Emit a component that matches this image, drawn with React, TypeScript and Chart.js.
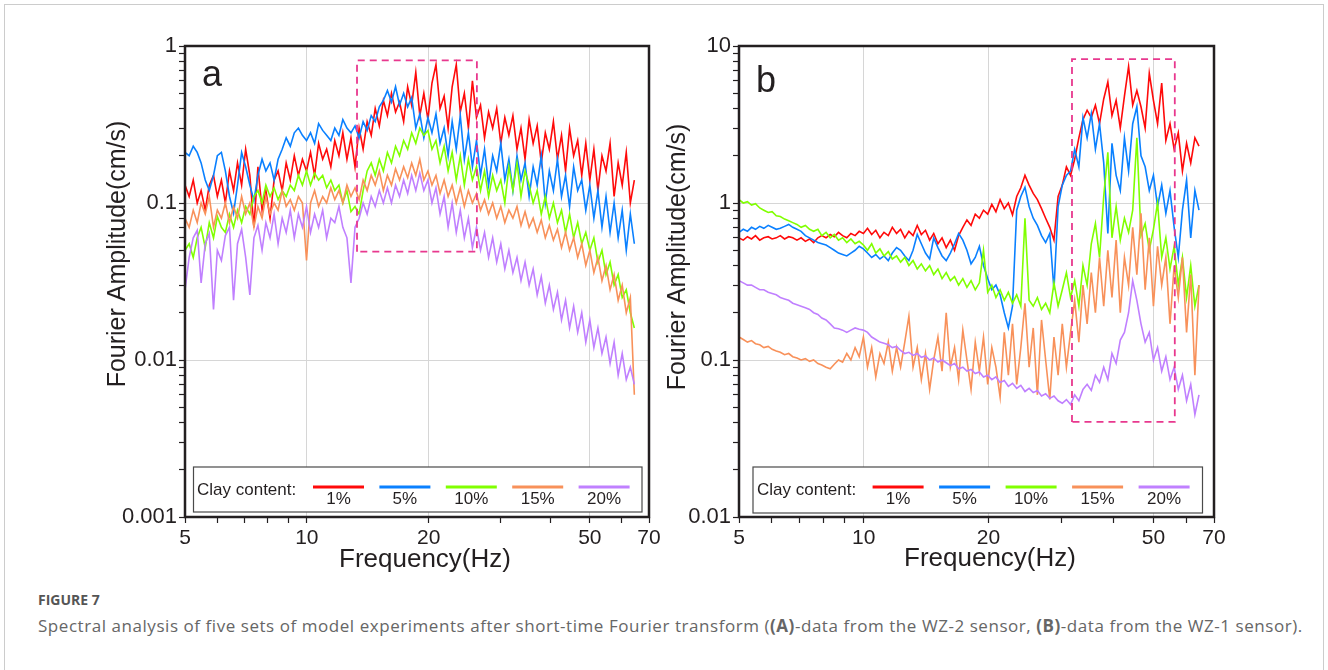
import React, { useEffect, useRef } from "react";
import { Chart, registerables } from "chart.js";

Chart.register(...registerables);

// ---------------- data ----------------
const freqHz = [
  5, 5.12, 5.24, 5.36, 5.48, 5.61, 5.74, 5.88, 6.01, 6.15,
  6.29, 6.44, 6.59, 6.74, 6.9, 7.06, 7.23, 7.4, 7.57, 7.75,
  7.92, 8.11, 8.3, 8.49, 8.69, 8.89, 9.1, 9.31, 9.53, 9.75,
  9.98, 10.21, 10.45, 10.69, 10.94, 11.19, 11.46, 11.72, 12, 12.27,
  12.56, 12.85, 13.15, 13.46, 13.77, 14.09, 14.42, 14.75, 15.1, 15.45,
  15.81, 16.18, 16.56, 16.94, 17.34, 17.74, 18.15, 18.58, 19.01, 19.45,
  19.91, 20.37, 20.84, 21.33, 21.83, 22.33, 22.85, 23.39, 23.93, 24.49,
  25.06, 25.64, 26.24, 26.85, 27.47, 28.11, 28.77, 29.44, 30.13, 30.83,
  31.55, 32.28, 33.04, 33.8, 34.59, 35.4, 36.22, 37.06, 37.93, 38.81,
  39.71, 40.64, 41.59, 42.56, 43.55, 44.56, 45.6, 46.66, 47.75, 48.86,
  50, 51.16, 52.35, 53.57, 54.82, 56.1, 57.4, 58.74, 60.11, 61.51,
  62.95, 64.4,
];

const clayLabels = ["1%", "5%", "10%", "15%", "20%"];

// Panel (a): WZ-2 sensor
const wz2Clay1 = [
  0.13, 0.11, 0.14, 0.1, 0.12, 0.09, 0.13, 0.15, 0.11, 0.14,
  0.1, 0.16, 0.12, 0.18, 0.13, 0.22, 0.15, 0.07, 0.17, 0.09,
  0.12, 0.08, 0.14, 0.16, 0.12, 0.18, 0.14, 0.2, 0.15, 0.19,
  0.16, 0.21, 0.15, 0.24, 0.19, 0.22, 0.17, 0.25, 0.2, 0.28,
  0.19, 0.26, 0.17, 0.3, 0.22, 0.33, 0.27, 0.4, 0.31, 0.45,
  0.36, 0.5, 0.38, 0.44, 0.33, 0.55, 0.42, 0.68, 0.36, 0.5,
  0.34, 0.58, 0.76, 0.4, 0.48, 0.3, 0.55, 0.76, 0.38, 0.5,
  0.3, 0.6, 0.35, 0.42, 0.26, 0.38, 0.3, 0.4, 0.24, 0.35,
  0.27, 0.36, 0.22, 0.3, 0.19, 0.34, 0.24, 0.31, 0.18, 0.28,
  0.22, 0.33, 0.19, 0.27, 0.16, 0.3, 0.2, 0.25, 0.15, 0.24,
  0.14, 0.22, 0.12, 0.2, 0.16, 0.24, 0.11, 0.18, 0.13, 0.21,
  0.1, 0.14,
];
const wz2Clay5 = [
  0.21, 0.2, 0.23, 0.21, 0.18, 0.14, 0.12, 0.15, 0.2, 0.21,
  0.16, 0.11, 0.086, 0.13, 0.21, 0.17, 0.13, 0.104, 0.15, 0.19,
  0.16, 0.18, 0.14, 0.19, 0.22, 0.26, 0.23, 0.28, 0.3, 0.27,
  0.25, 0.28, 0.24, 0.32, 0.29, 0.27, 0.25, 0.3, 0.27, 0.34,
  0.3, 0.28, 0.31, 0.26, 0.33, 0.29, 0.36, 0.33, 0.41, 0.45,
  0.52, 0.44, 0.55, 0.42, 0.5, 0.41, 0.47, 0.3, 0.37, 0.26,
  0.35, 0.28, 0.37, 0.24, 0.3, 0.2, 0.33, 0.22, 0.36, 0.19,
  0.28, 0.17, 0.25, 0.15, 0.22, 0.13, 0.2, 0.16, 0.24, 0.14,
  0.19, 0.12, 0.2, 0.14, 0.18, 0.11, 0.17, 0.13, 0.2, 0.1,
  0.16, 0.12, 0.19, 0.11, 0.15, 0.095, 0.17, 0.12, 0.14, 0.09,
  0.13, 0.08, 0.12, 0.07, 0.11, 0.065, 0.1, 0.06, 0.09, 0.05,
  0.085, 0.055,
];
const wz2Clay10 = [
  0.05, 0.055, 0.045, 0.06, 0.07, 0.052, 0.075, 0.06, 0.082, 0.07,
  0.065, 0.085, 0.07, 0.09, 0.075, 0.095, 0.085, 0.11, 0.12, 0.1,
  0.13, 0.11, 0.125, 0.105, 0.12, 0.11, 0.13, 0.12, 0.15, 0.13,
  0.16, 0.13, 0.155, 0.14, 0.15, 0.125, 0.14, 0.12, 0.13, 0.1,
  0.12, 0.088, 0.095, 0.085, 0.12, 0.16, 0.18, 0.15, 0.19, 0.16,
  0.21, 0.18, 0.23, 0.2, 0.25, 0.22, 0.28, 0.24, 0.3, 0.27,
  0.29, 0.22, 0.25, 0.18, 0.23, 0.16, 0.21, 0.14, 0.2, 0.13,
  0.19, 0.14, 0.17, 0.12, 0.16, 0.11, 0.15, 0.12, 0.14, 0.1,
  0.17, 0.12, 0.18, 0.11, 0.16, 0.13, 0.1, 0.12, 0.085, 0.11,
  0.08, 0.1, 0.075, 0.09, 0.065, 0.085, 0.06, 0.075, 0.055, 0.065,
  0.05, 0.06, 0.042, 0.05, 0.035, 0.042, 0.03, 0.035, 0.025, 0.028,
  0.02, 0.016,
];
const wz2Clay15 = [
  0.08, 0.07, 0.09, 0.075, 0.1, 0.085, 0.11, 0.07, 0.09, 0.08,
  0.1, 0.075, 0.095, 0.08, 0.11, 0.085, 0.1, 0.07, 0.095, 0.08,
  0.11, 0.085, 0.1, 0.09, 0.12, 0.095, 0.105, 0.09, 0.11, 0.1,
  0.043, 0.1, 0.12, 0.095, 0.11, 0.1, 0.125, 0.105, 0.12, 0.1,
  0.13, 0.11, 0.125, 0.105, 0.14, 0.12, 0.15, 0.13, 0.16, 0.12,
  0.15, 0.13, 0.165, 0.14, 0.17, 0.145, 0.18, 0.15, 0.19, 0.14,
  0.16, 0.13, 0.15, 0.115, 0.14, 0.11, 0.13, 0.1, 0.125, 0.095,
  0.12, 0.1, 0.115, 0.09, 0.105, 0.085, 0.1, 0.08, 0.095, 0.075,
  0.09, 0.08, 0.095, 0.072, 0.088, 0.07, 0.08, 0.065, 0.078, 0.06,
  0.072, 0.058, 0.068, 0.052, 0.065, 0.05, 0.06, 0.045, 0.055, 0.04,
  0.05, 0.036, 0.045, 0.032, 0.04, 0.028, 0.035, 0.024, 0.03, 0.02,
  0.025, 0.006,
];
const wz2Clay20 = [
  0.028, 0.045, 0.06, 0.067, 0.031, 0.055, 0.064, 0.021, 0.05, 0.043,
  0.062, 0.07, 0.024, 0.055, 0.068, 0.045, 0.026, 0.06, 0.072, 0.05,
  0.075, 0.06, 0.085, 0.055, 0.08, 0.065, 0.09, 0.06, 0.085, 0.07,
  0.095, 0.065, 0.085, 0.07, 0.09, 0.06, 0.08, 0.075, 0.095, 0.07,
  0.06, 0.031, 0.07, 0.08, 0.1, 0.085, 0.11, 0.095, 0.12, 0.1,
  0.125, 0.1, 0.13, 0.11, 0.14, 0.115, 0.15, 0.12, 0.155, 0.12,
  0.14, 0.1, 0.125, 0.085, 0.11, 0.07, 0.1, 0.065, 0.09, 0.06,
  0.08, 0.052, 0.07, 0.05, 0.065, 0.045, 0.06, 0.042, 0.055, 0.038,
  0.05, 0.036, 0.045, 0.032, 0.042, 0.03, 0.038, 0.026, 0.034, 0.023,
  0.03, 0.021, 0.027, 0.018, 0.024, 0.016, 0.022, 0.015, 0.02, 0.013,
  0.018, 0.012, 0.016, 0.011, 0.014, 0.0095, 0.013, 0.008, 0.011, 0.0075,
  0.009, 0.007,
];

// Panel (b): WZ-1 sensor
const wz1Clay1 = [
  0.6, 0.58, 0.61, 0.59, 0.62, 0.58, 0.6, 0.61, 0.59, 0.6,
  0.62, 0.59, 0.61, 0.6, 0.58, 0.6, 0.57, 0.59, 0.56, 0.6,
  0.62, 0.6, 0.63, 0.61, 0.65, 0.62, 0.6, 0.64, 0.62, 0.66,
  0.64, 0.69, 0.63, 0.67, 0.6, 0.65, 0.62, 0.7, 0.64, 0.68,
  0.6, 0.66, 0.62, 0.72, 0.63, 0.67, 0.58, 0.64, 0.55, 0.6,
  0.52, 0.58, 0.5, 0.62, 0.7, 0.78, 0.72, 0.85, 0.8, 0.9,
  0.85, 0.98, 0.88, 1.05, 0.92, 1.0, 0.84, 1.1, 1.25, 1.5,
  1.3, 1.15, 1.05, 0.92, 0.8, 0.7, 0.58, 1.1, 1.3, 1.7,
  1.5, 1.9, 2.6, 3.4, 3.9, 3.5, 4.2, 3.2, 4.6, 5.9,
  3.6, 4.5, 3.0, 4.8, 7.4, 4.2, 5.2, 4.1, 3.0, 6.7,
  4.5, 3.2, 5.8, 2.5, 3.2, 2.2, 2.8, 1.6, 2.4, 1.8,
  2.6, 2.3,
];
const wz1Clay5 = [
  0.65, 0.68, 0.66, 0.7, 0.68, 0.71, 0.69, 0.72, 0.7, 0.68,
  0.69, 0.71, 0.73, 0.7, 0.68, 0.66, 0.62, 0.6, 0.58, 0.56,
  0.55, 0.54, 0.52, 0.5, 0.48, 0.47, 0.46, 0.48, 0.5, 0.53,
  0.51, 0.48, 0.45, 0.47, 0.44, 0.46, 0.43, 0.48, 0.52, 0.5,
  0.46, 0.43, 0.5, 0.63, 0.55, 0.48, 0.44, 0.6, 0.52, 0.46,
  0.43, 0.48, 0.55, 0.64, 0.58, 0.5, 0.41, 0.45, 0.53, 0.4,
  0.33, 0.28, 0.3, 0.26, 0.2, 0.16, 0.22, 0.9, 1.1, 1.26,
  0.95, 0.8, 0.72, 0.62, 0.56, 0.64, 0.28, 0.95, 1.3, 1.5,
  1.6, 2.2, 1.7, 3.5, 2.6, 3.7, 2.2, 3.2, 1.8, 0.64,
  2.4, 1.5, 1.2, 2.6, 1.6, 3.2, 4.1, 2.0, 1.7, 1.2,
  1.5, 0.95, 1.3, 0.86, 1.2, 0.7, 0.45, 0.9, 1.4, 0.6,
  1.2, 0.9,
];
const wz1Clay10 = [
  1.05, 1.0, 1.02, 0.97, 0.99, 0.93, 0.9, 0.87, 0.88, 0.83,
  0.82, 0.79, 0.77, 0.75, 0.73, 0.7, 0.72, 0.68, 0.66, 0.68,
  0.62, 0.65, 0.6, 0.63, 0.58, 0.6, 0.56, 0.59, 0.55, 0.57,
  0.54, 0.5, 0.55, 0.48, 0.51, 0.46, 0.49, 0.44, 0.46, 0.42,
  0.45, 0.4, 0.43, 0.38, 0.41, 0.37, 0.4, 0.35, 0.38, 0.33,
  0.36, 0.32, 0.34, 0.3, 0.33, 0.29, 0.32, 0.28, 0.31, 0.5,
  0.27, 0.3, 0.25, 0.28, 0.24, 0.27, 0.23, 0.26, 0.22, 0.8,
  0.24, 0.22, 0.25, 0.21, 0.23, 0.2, 0.31, 0.22, 0.28, 0.36,
  0.25, 0.32, 0.22, 0.4, 0.3, 0.55, 0.74, 0.45, 1.1, 2.1,
  0.6, 0.95, 0.58, 0.8, 0.65, 0.9, 2.6, 0.62, 0.74, 0.5,
  0.68, 1.0, 0.45, 0.6, 0.38, 0.53, 0.3, 0.45, 0.25, 0.4,
  0.22, 0.3,
];
const wz1Clay15 = [
  0.14, 0.135, 0.13, 0.133, 0.127, 0.125, 0.12, 0.122, 0.117, 0.114,
  0.112, 0.108, 0.11, 0.105, 0.103, 0.1, 0.102, 0.098, 0.1, 0.095,
  0.093, 0.09, 0.088, 0.094, 0.1, 0.097, 0.11, 0.1, 0.12, 0.105,
  0.14, 0.09, 0.12, 0.078, 0.11, 0.095, 0.13, 0.085, 0.12, 0.09,
  0.13, 0.19, 0.09, 0.12, 0.075, 0.11, 0.065, 0.1, 0.14, 0.085,
  0.2, 0.09, 0.12, 0.075, 0.155, 0.1, 0.065, 0.13, 0.085, 0.14,
  0.07, 0.12, 0.09, 0.058, 0.15, 0.08, 0.17, 0.07, 0.12, 0.23,
  0.09, 0.16, 0.06, 0.18, 0.1, 0.056, 0.14, 0.08, 0.17, 0.09,
  0.15, 0.24, 0.13, 0.3, 0.17, 0.36, 0.2, 0.45, 0.22, 0.5,
  0.25, 0.58, 0.2, 0.45, 0.3, 0.7, 0.35, 0.86, 0.28, 0.6,
  0.22, 0.53, 0.3, 0.45, 0.17, 0.4, 0.25, 0.45, 0.15, 0.35,
  0.08, 0.3,
];
const wz1Clay20 = [
  0.32, 0.31, 0.3, 0.3, 0.29, 0.28, 0.28, 0.27, 0.265, 0.26,
  0.25, 0.245, 0.24, 0.23, 0.225, 0.22, 0.215, 0.21, 0.2, 0.195,
  0.185, 0.18, 0.17, 0.16, 0.158, 0.155, 0.15, 0.155, 0.16, 0.157,
  0.155, 0.15, 0.14, 0.135, 0.13, 0.128, 0.125, 0.12, 0.122, 0.115,
  0.11, 0.112, 0.107, 0.11, 0.104, 0.106, 0.1, 0.103, 0.097, 0.1,
  0.096, 0.092, 0.095, 0.088, 0.09, 0.085, 0.087, 0.082, 0.084, 0.078,
  0.08, 0.075, 0.078, 0.072, 0.074, 0.068, 0.071, 0.066, 0.069, 0.063,
  0.066, 0.062, 0.064, 0.059, 0.061, 0.057, 0.059, 0.055, 0.053, 0.056,
  0.052, 0.06, 0.055, 0.065, 0.07, 0.064, 0.08, 0.072, 0.09, 0.075,
  0.11, 0.095, 0.134, 0.15, 0.2, 0.32, 0.24, 0.17, 0.13, 0.15,
  0.1, 0.12, 0.085, 0.105, 0.075, 0.09, 0.065, 0.08, 0.055, 0.07,
  0.045, 0.06,
];

// dashed highlight windows [min, max]
const highlightA_Hz = [13.3, 26.3];
const highlightA_amp = [0.049, 0.81];
const highlightB_Hz = [31.8, 56.3];
const highlightB_amp = [0.0403, 8.26];

// axes
const xTickValues = [5, 6, 7, 8, 9, 10, 20, 30, 40, 50, 60, 70];
const xLabelValues = [5, 10, 20, 50, 70];
const xGridValues = [10, 20, 50];

const yTicksA = [
  0.001, 0.002, 0.003, 0.004, 0.005, 0.006, 0.007, 0.008, 0.009,
  0.01, 0.02, 0.03, 0.04, 0.05, 0.06, 0.07, 0.08, 0.09,
  0.1, 0.2, 0.3, 0.4, 0.5, 0.6, 0.7, 0.8, 0.9, 1,
];
const yLabelsA = [0.001, 0.01, 0.1, 1];
const yGridA = [0.01, 0.1];

const yTicksB = [
  0.01, 0.02, 0.03, 0.04, 0.05, 0.06, 0.07, 0.08, 0.09,
  0.1, 0.2, 0.3, 0.4, 0.5, 0.6, 0.7, 0.8, 0.9,
  1, 2, 3, 4, 5, 6, 7, 8, 9, 10,
];
const yLabelsB = [0.01, 0.1, 1, 10];
const yGridB = [0.1, 1];

// ---------------- styles ----------------
const INK = "#231f20";
const FONT = '"Liberation Sans", Arial, sans-serif';
const SERIES_COLORS = ["#ff0a0a", "#0a80ff", "#80ff00", "#f8915a", "#c080ff"];
const BOX_COLOR = "#e8388e";
const GRID_COLOR = "#d6d6d6";
const CANVAS_W = 664;
const CANVAS_H = 590;

type PanelCfg = {
  left: number;
  letter: string;
  letterX: number;
  letterY: number;
  area: { left: number; right: number; top: number; bottom: number };
  yMin: number;
  yMax: number;
  yTicks: number[];
  yLabels: number[];
  yGrid: number[];
  series: number[][];
  boxHz: number[];
  boxAmp: number[];
  legend: { x: number; y: number; w: number; h: number; textX: number; textY: number; sampleX: number; step: number; len: number; lineY: number; labelY: number };
  yTitle: { x: number; y: number };
  xTitle: { x: number; y: number };
};

const panelA: PanelCfg = {
  left: 0,
  letter: "a",
  letterX: 202,
  letterY: 86,
  area: { left: 185, right: 649, top: 46, bottom: 517 },
  yMin: 0.001,
  yMax: 1,
  yTicks: yTicksA,
  yLabels: yLabelsA,
  yGrid: yGridA,
  series: [wz2Clay1, wz2Clay5, wz2Clay10, wz2Clay15, wz2Clay20],
  boxHz: highlightA_Hz,
  boxAmp: highlightA_amp,
  legend: { x: 193.5, y: 467, w: 448.5, h: 45, textX: 197, textY: 490, sampleX: 313, step: 66.4, len: 51, lineY: 487, labelY: 499 },
  yTitle: { x: 118, y: 254 },
  xTitle: { x: 425, y: 560 },
};

const panelB: PanelCfg = {
  left: 664,
  letter: "b",
  letterX: 756,
  letterY: 92,
  area: { left: 739, right: 1214, top: 46, bottom: 517 },
  yMin: 0.01,
  yMax: 10,
  yTicks: yTicksB,
  yLabels: yLabelsB,
  yGrid: yGridB,
  series: [wz1Clay1, wz1Clay5, wz1Clay10, wz1Clay15, wz1Clay20],
  boxHz: highlightB_Hz,
  boxAmp: highlightB_amp,
  legend: { x: 753, y: 467, w: 449.5, h: 46, textX: 757, textY: 490, sampleX: 872.6, step: 66.5, len: 51, lineY: 487, labelY: 499 },
  yTitle: { x: 678, y: 257 },
  xTitle: { x: 990, y: 559 },
};

function sameVal(a: number, b: number) {
  return Math.abs(a - b) < 1e-9 * Math.max(1, Math.abs(b));
}

function buildConfig(p: PanelCfg): any {
  const off = p.left;
  const seriesSets = p.series.map((vals, i) => ({
    label: clayLabels[i],
    data: vals.map((v, j) => ({ x: freqHz[j], y: v })),
    borderColor: SERIES_COLORS[i],
    backgroundColor: SERIES_COLORS[i],
    borderWidth: 1.6,
    pointRadius: 0,
    tension: 0,
    fill: false,
    order: 5 - i,
  }));
  const [x0, x1] = p.boxHz;
  const [y0, y1] = p.boxAmp;
  const boxSet = {
    label: "box",
    data: [
      { x: x0, y: y0 },
      { x: x0, y: y1 },
      { x: x1, y: y1 },
      { x: x1, y: y0 },
      { x: x0, y: y0 },
    ],
    borderColor: BOX_COLOR,
    borderWidth: 1.8,
    borderDash: [7, 5],
    pointRadius: 0,
    tension: 0,
    fill: false,
    order: 0,
  };

  const decor = {
    id: "decor",
    afterDatasetsDraw(chart: any) {
      const { ctx, chartArea: a } = chart;
      ctx.save();
      // frame
      ctx.strokeStyle = INK;
      ctx.lineWidth = 2.5;
      ctx.strokeRect(a.left, a.top, a.right - a.left, a.bottom - a.top);
      // legend
      const L = p.legend;
      const lx = L.x - off;
      ctx.fillStyle = "#ffffff";
      ctx.fillRect(lx, L.y, L.w, L.h);
      ctx.strokeStyle = "#4a4a4a";
      ctx.lineWidth = 1.2;
      ctx.strokeRect(lx, L.y, L.w, L.h);
      ctx.fillStyle = INK;
      ctx.font = `17px ${FONT}`;
      ctx.textBaseline = "middle";
      ctx.textAlign = "left";
      ctx.fillText("Clay content:", L.textX - off, L.textY);
      const sets = chart.data.datasets.slice(0, 5);
      sets.forEach((d: any, i: number) => {
        const sx = L.sampleX - off + i * L.step;
        ctx.strokeStyle = d.borderColor;
        ctx.lineWidth = 3;
        ctx.beginPath();
        ctx.moveTo(sx, L.lineY);
        ctx.lineTo(sx + L.len, L.lineY);
        ctx.stroke();
        ctx.fillStyle = INK;
        ctx.textAlign = "center";
        ctx.fillText(d.label, sx + L.len / 2, L.labelY);
      });
      // panel letter
      ctx.fillStyle = INK;
      ctx.font = `36px ${FONT}`;
      ctx.textAlign = "left";
      ctx.textBaseline = "alphabetic";
      ctx.fillText(p.letter, p.letterX - off, p.letterY);
      // axis titles
      ctx.font = `26px ${FONT}`;
      ctx.textAlign = "center";
      ctx.textBaseline = "middle";
      ctx.fillText("Frequency(Hz)", p.xTitle.x - off, p.xTitle.y);
      ctx.save();
      ctx.translate(p.yTitle.x - off, p.yTitle.y);
      ctx.rotate(-Math.PI / 2);
      ctx.font = `25px ${FONT}`;
      ctx.fillText("Fourier Amplitude(cm/s)", 0, 0);
      ctx.restore();
      ctx.restore();
    },
  };

  return {
    type: "line",
    data: { datasets: [...seriesSets, boxSet] },
    options: {
      animation: false,
      responsive: false,
      devicePixelRatio: 1,
      events: [],
      layout: {
        padding: { top: p.area.top, left: 0, bottom: 0, right: CANVAS_W - (p.area.right - off) },
      },
      plugins: { legend: { display: false }, tooltip: { enabled: false }, title: { display: false } },
      scales: {
        x: {
          type: "logarithmic",
          min: 5,
          max: 70,
          afterBuildTicks: (s: any) => {
            s.ticks = xTickValues.map((v) => ({ value: v }));
          },
          afterFit: (s: any) => {
            s.height = CANVAS_H - p.area.bottom;
            s.paddingLeft = 0;
            s.paddingRight = 0;
          },
          ticks: {
            autoSkip: false,
            maxRotation: 0,
            minRotation: 0,
            padding: 3,
            color: INK,
            font: { family: FONT, size: 21 },
            callback: (v: number) => (xLabelValues.some((t) => sameVal(t, v)) ? String(v) : ""),
          },
          grid: {
            color: (c: any) => (c.tick && xGridValues.some((t) => sameVal(t, c.tick.value)) ? GRID_COLOR : "rgba(0,0,0,0)"),
            lineWidth: 1,
            tickColor: INK,
            tickLength: 6,
            tickWidth: 1.2,
          },
          border: { display: false },
        },
        y: {
          type: "logarithmic",
          min: p.yMin,
          max: p.yMax,
          afterBuildTicks: (s: any) => {
            s.ticks = p.yTicks.map((v) => ({ value: v }));
          },
          afterFit: (s: any) => {
            s.width = p.area.left - off;
            s.paddingTop = 0;
            s.paddingBottom = 0;
          },
          ticks: {
            autoSkip: false,
            padding: 2,
            color: INK,
            font: { family: FONT, size: 22 },
            callback: (v: number) => (p.yLabels.some((t) => sameVal(t, v)) ? String(v) : ""),
          },
          grid: {
            color: (c: any) => (c.tick && p.yGrid.some((t) => sameVal(t, c.tick.value)) ? GRID_COLOR : "rgba(0,0,0,0)"),
            lineWidth: 1,
            tickColor: INK,
            tickLength: 6,
            tickWidth: 1.2,
          },
          border: { display: false },
        },
      },
    },
    plugins: [decor],
  };
}

function Panel({ cfg }: { cfg: PanelCfg }) {
  const ref = useRef<HTMLCanvasElement>(null);
  useEffect(() => {
    if (!ref.current) return;
    const chart = new Chart(ref.current, buildConfig(cfg));
    return () => chart.destroy();
  }, [cfg]);
  return (
    <canvas
      ref={ref}
      width={CANVAS_W}
      height={CANVAS_H}
      style={{ position: "absolute", left: cfg.left, top: 0, width: CANVAS_W, height: CANVAS_H }}
    />
  );
}

export default function App() {
  useEffect(() => {
    document.body.style.margin = "0";
  }, []);
  return (
    <div style={{ position: "absolute", left: 0, top: 0, width: 1328, height: 670, overflow: "hidden", background: "#ffffff" }}>
      <div
        style={{
          position: "absolute",
          left: 4,
          top: 4,
          width: 1320,
          height: 720,
          border: "1px solid #cccccc",
          boxSizing: "border-box",
        }}
      />
      <Panel cfg={panelA} />
      <Panel cfg={panelB} />
      <div
        style={{
          position: "absolute",
          left: 38,
          top: 590,
          font: 'bold 14px "Open Sans", sans-serif',
          lineHeight: "20px",
          color: "#555555",
          whiteSpace: "nowrap",
        }}
      >
        FIGURE 7
      </div>
      <div
        style={{
          position: "absolute",
          left: 38,
          top: 614,
          font: '17px "Open Sans", sans-serif',
          lineHeight: "24px",
          letterSpacing: "0.55px",
          color: "#666666",
          whiteSpace: "nowrap",
        }}
      >
        Spectral analysis of five sets of model experiments after short-time Fourier transform (<b>(A)</b>-data from the WZ-2
        sensor, <b>(B)</b>-data from the WZ-1 sensor).
      </div>
    </div>
  );
}
